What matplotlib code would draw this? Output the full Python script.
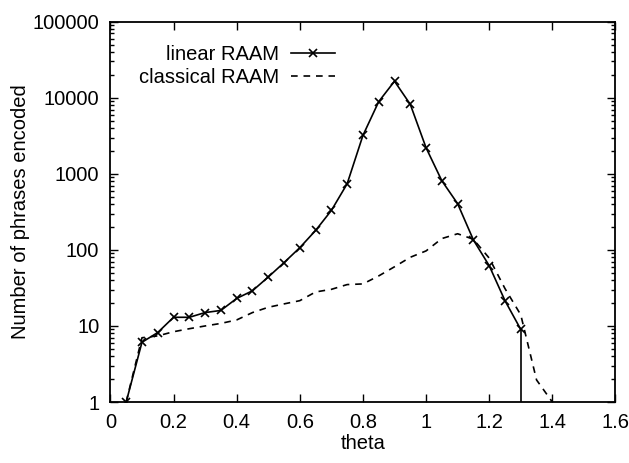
import matplotlib
matplotlib.use("Agg")
import matplotlib.pyplot as plt
from matplotlib.ticker import LogLocator, FixedLocator, NullFormatter

plt.rcParams['font.family'] = ['Liberation Sans', 'DejaVu Sans']

# data
lin_theta = [0.05, 0.10, 0.15, 0.20, 0.25, 0.30, 0.35, 0.40, 0.45, 0.50, 0.55, 0.60, 0.65,
             0.70, 0.75, 0.80, 0.85, 0.90, 0.95, 1.00, 1.05, 1.10, 1.15, 1.20, 1.25, 1.30]
lin_count = [1, 6.1, 8.2, 13, 13, 15, 16, 23, 29, 44, 68, 107, 180,
             330, 740, 3200, 8900, 16500, 8200, 2200, 810, 405, 135, 62, 21.5, 9]

cls_theta = [0.05, 0.10, 0.15, 0.20, 0.25, 0.30, 0.35, 0.40, 0.45, 0.50, 0.55, 0.60, 0.65, 0.70,
             0.75, 0.80, 0.85, 0.90, 0.95, 1.00, 1.05, 1.10, 1.15, 1.20, 1.25, 1.30, 1.35, 1.40]
cls_count = [1, 7, 7.4, 8.4, 9.2, 10, 10.8, 12, 15, 17.6, 19.5, 21.5, 28, 30.3,
             35, 35.7, 45.5, 60, 80, 97, 141, 163, 138, 78, 31, 14, 1.95, 1]

x_ticks = [0, 0.2, 0.4, 0.6, 0.8, 1, 1.2, 1.4, 1.6]
x_ticklabels = ['0', '0.2', '0.4', '0.6', '0.8', '1', '1.2', '1.4', '1.6']
y_ticks = [1, 10, 100, 1000, 10000, 100000]
y_ticklabels = ['1', '10', '100', '1000', '10000', '100000']

fig = plt.figure(figsize=(6.29, 4.63), dpi=100)
ax = fig.add_axes([0.1755, 0.1317, 0.803, 0.8214])

ax.plot(lin_theta, lin_count, color='black', lw=1.2, marker='x', ms=5.5, mew=1.2,
        label='linear RAAM')
ax.vlines(lin_theta[-1], y_ticks[0], lin_count[-1], color='black', lw=1.2)
ax.plot(cls_theta, cls_count, color='black', lw=1.2, linestyle=(0, (4, 3.5)),
        label='classical RAAM')

ax.set_yscale('log')
ax.set_xlim(0, 1.6)
ax.set_ylim(1, 100000)

ax.set_xticks(x_ticks)
ax.set_xticklabels(x_ticklabels)
ax.set_yticks(y_ticks)
ax.set_yticklabels(y_ticklabels)
ax.yaxis.set_minor_locator(LogLocator(base=10, subs=[2, 3, 4, 5, 6, 7, 8, 9]))
ax.yaxis.set_minor_formatter(NullFormatter())
ax.xaxis.set_minor_locator(FixedLocator([]))

ax.tick_params(which='both', direction='in', top=True, right=True, width=1.0,
               labelsize=14.5, colors='black')
ax.tick_params(which='major', length=6, pad=8)
ax.tick_params(which='minor', length=3)
for s in ax.spines.values():
    s.set_linewidth(1.3)

ax.set_xlabel('theta', fontsize=14.5, labelpad=1)
ax.set_ylabel('Number of phrases encoded', fontsize=14.5, labelpad=2)

leg = ax.legend(loc='upper left', bbox_to_anchor=(0.04, 0.96), markerfirst=False,
                frameon=False, fontsize=14.5, handlelength=2.2, handletextpad=0.6,
                labelspacing=0.2, borderaxespad=0)

fig.savefig('out.png', dpi=100)
